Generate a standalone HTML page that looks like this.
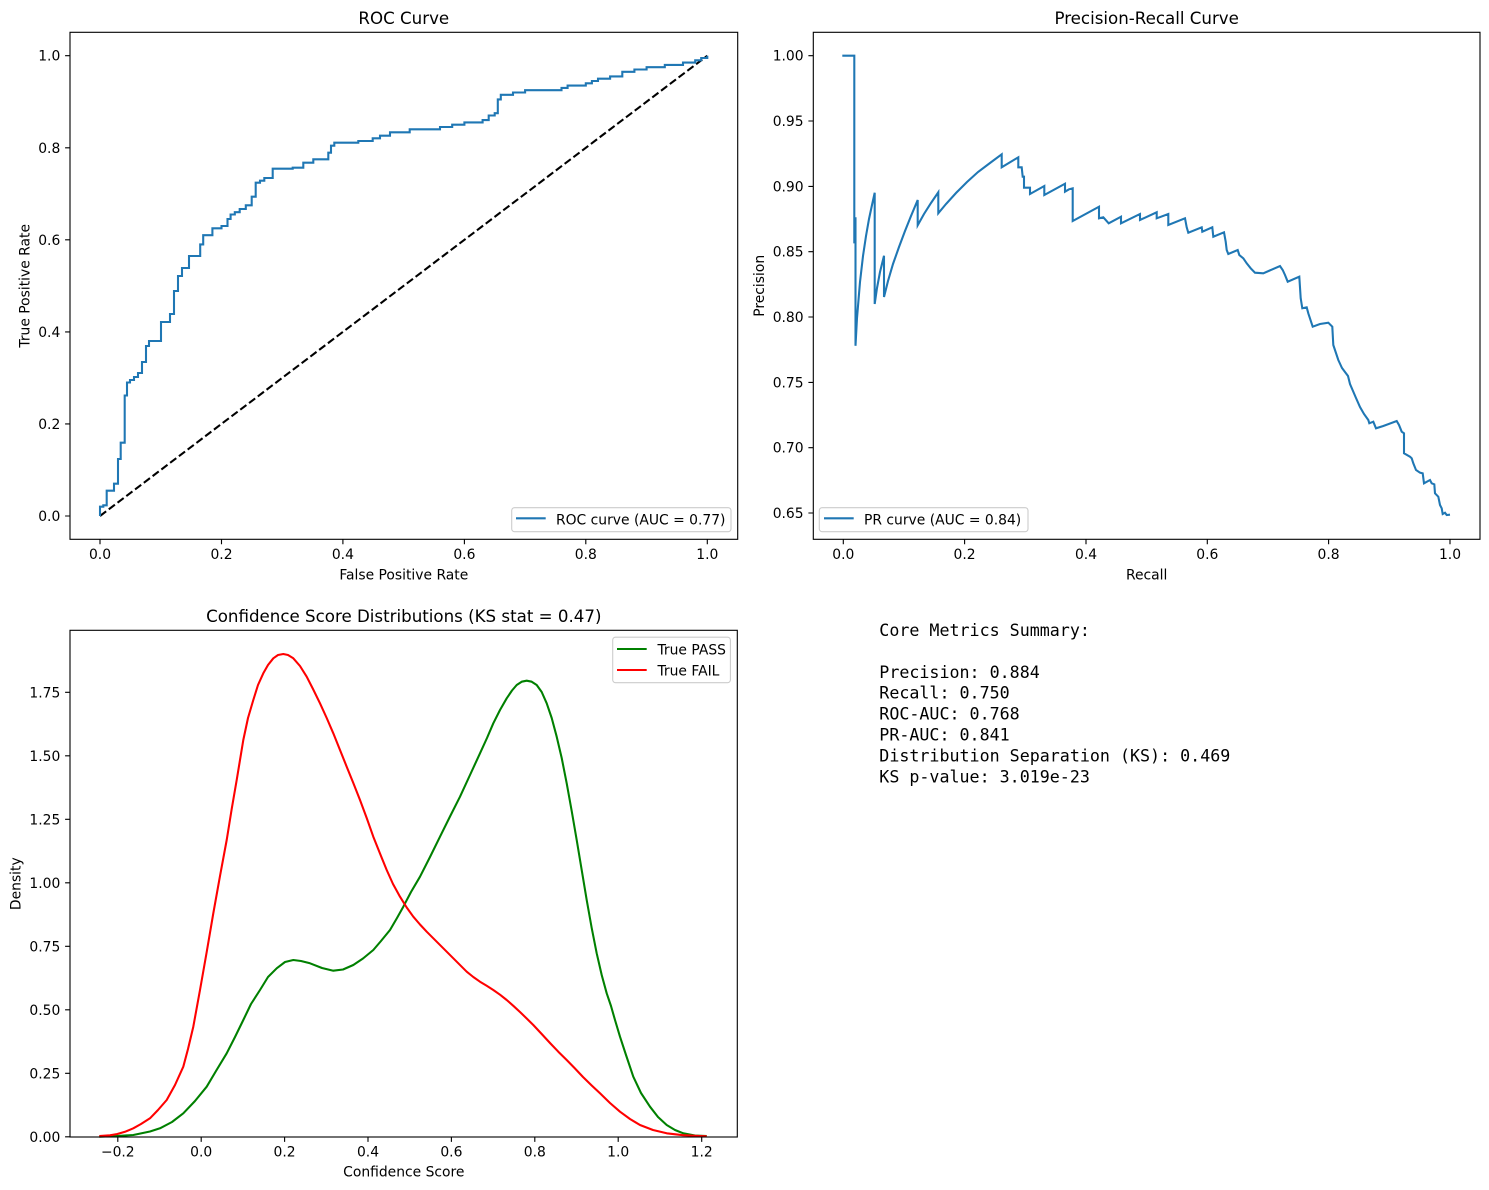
<!DOCTYPE html>
<html><head><meta charset="utf-8"><style>
html,body{margin:0;padding:0;background:#fff;}
svg{display:block;}
text{font-family:"DejaVu Sans","Liberation Sans",sans-serif;fill:#000;}
.t{font-size:13.89px;}
.ti{font-size:16.67px;}
.mono text{font-family:"DejaVu Sans Mono","Liberation Mono",monospace;font-size:16.67px;}
</style></head><body>
<svg width="1489" height="1190" viewBox="0 0 1489 1190" xmlns="http://www.w3.org/2000/svg">
<rect width="1489" height="1190" fill="#fff"/>

<!-- ============ ROC ============ -->
<path d="M100,516 L707.3,55.7" stroke="#000" stroke-width="2.08" stroke-dasharray="7.7,3.3" fill="none"/>
<path d="M100,516 V506.7 H103.3 V505.3 H106.7 V490.7 H114 V483.7 H118 V459 H120.7 V442.7 H124.7 V395.5 H127 V382.5 H130 V380 H134 V377 H138 V373 H142 V362 H146 V346 H149 V341 H161 V322 H170 V314 H174 V291 H178 V276 H182 V268 H189 V256 H200.2 V244.4 H203.2 V235.2 H212.4 V228.3 H221.5 V226 H227.5 V219 H230.6 V214.5 H234.8 V212.2 H239.7 V209 H245.8 V205.3 H251.7 V196.7 H255.7 V182.7 H260 V180.7 H264.3 V178 H272.7 V168.7 H292.7 V167.7 H303.3 V162.7 H313.3 V159.3 H328.3 V152.7 H331 V145.7 H334.3 V142.7 H358.3 V141 H372.7 V138.3 H380 V135.7 H390 V132.3 H409.7 V129.3 H440 V127 H452.2 V124.7 H464.4 V122.4 H482.6 V120.1 H488.7 V115.5 H494.7 V113.2 H497.8 V99.4 H500.8 V94.8 H513 V92.5 H525.1 V90.2 H561.5 V87.9 H567.6 V85.6 H585.8 V83.3 H591.9 V81 H598 V78.7 H610.1 V76.4 H622.3 V71.8 H634.4 V69.5 H646.6 V67.2 H664.8 V64.9 H683 V62.6 H695.2 V60.3 H701.2 V58 H707.3 V55.7" stroke="#1f77b4" stroke-width="2.08" fill="none" stroke-linejoin="miter"/>
<rect x="70" y="32.3" width="667.7" height="507" fill="none" stroke="#000" stroke-width="1.11"/>
<g stroke="#000" stroke-width="1.11">
<path d="M100,539.3v4.9M221.5,539.3v4.9M342.9,539.3v4.9M464.4,539.3v4.9M585.8,539.3v4.9M707.3,539.3v4.9"/>
<path d="M65.1,516h4.9M65.1,423.9h4.9M65.1,331.9h4.9M65.1,239.8h4.9M65.1,147.8h4.9M65.1,55.7h4.9"/>
</g>
<g class="t" text-anchor="middle">
<text x="100" y="559">0.0</text><text x="221.5" y="559">0.2</text><text x="342.9" y="559">0.4</text><text x="464.4" y="559">0.6</text><text x="585.8" y="559">0.8</text><text x="707.3" y="559">1.0</text>
</g>
<g class="t" text-anchor="end">
<text x="60.3" y="521">0.0</text><text x="60.3" y="428.9">0.2</text><text x="60.3" y="336.9">0.4</text><text x="60.3" y="244.8">0.6</text><text x="60.3" y="152.8">0.8</text><text x="60.3" y="60.7">1.0</text>
</g>
<text class="ti" x="403.8" y="24" text-anchor="middle">ROC Curve</text>
<text class="t" x="403.8" y="579.3" text-anchor="middle">False Positive Rate</text>
<text class="t" x="29.4" y="285.8" text-anchor="middle" transform="rotate(-90 29.4 285.8)">True Positive Rate</text>
<rect x="511.7" y="507.7" width="219.3" height="24" rx="2.8" fill="#fff" fill-opacity="0.8" stroke="#cccccc" stroke-width="1.1"/>
<path d="M516,518.3H545.7" stroke="#1f77b4" stroke-width="2.08"/>
<text class="t" x="556" y="524.3">ROC curve (AUC = 0.77)</text>

<!-- ============ PR ============ -->
<path d="M842.3,55.7 H854.3 V242.3 H855 V218.3 H855.5 V345.8 L857,318 L860,282 L863,256 L866,236 L869,219 L872,205 L874.7,192.7 V304 L877,288 L880,272 L884,255.7 V297 L888,281 L893,264 L899,247 L905,231 L911,216 L917.7,200 V225.3 L924,214 L931,203 L938.3,192.3 V213.3 L946,204 L956,193 L967,182 L978,172 L990,163 L1001.7,154.3 V167.3 L1018.3,157.3 V167.3 H1021.7 L1022.7,176.7 H1024 V187.7 H1030 V194 L1044.3,186 V195 L1065,183.7 V191.7 L1069,189.3 L1072.7,188.3 V221 L1099,206.7 V218.3 L1103.3,217.3 L1108.7,223.3 L1121,216.7 V223.3 L1140,214 V220 L1156.7,212.3 V218.3 L1168.3,214 V225 L1185,218.3 L1186.7,227.3 L1188.3,232.7 L1201.7,227.3 L1202.3,231.7 L1212.3,227.3 L1213.3,236.7 L1224,232.3 L1225.7,241.7 L1226.7,250 L1228.3,254 L1237.7,250 L1239.3,255 L1243.3,258.3 L1246.7,263.3 L1250.7,268.3 L1255,272.7 L1263.3,273.3 L1280,266 L1282.7,270 L1285,275 L1287.7,281.7 L1299.3,276.7 L1300.7,298.3 L1302.3,308.3 L1306.7,307.3 L1308.3,313.3 L1312.7,326.7 L1320,324 L1328.3,322.7 L1332.3,326.7 L1333.3,345 L1338.3,360 L1342,368 L1345,372 L1348,376 L1350,384 L1353,391 L1356,398 L1360,407 L1364,414 L1368.3,420 L1369.3,423.3 L1373.3,421.7 L1376,428.3 L1383.3,426 L1396.7,421 L1399,425 L1401.7,431.7 L1404,433.3 V453.3 L1410,456.7 L1411.7,458.3 L1413.3,463.3 L1416,470 L1420,472.7 L1422.7,473.3 L1424,483.3 L1430,480 L1431.7,483.3 L1434.3,484.3 L1435,493.3 L1438.3,496.7 L1440,505 L1441.7,508.3 L1442.7,514 L1445,512.7 L1446.7,515 L1450,514.7" stroke="#1f77b4" stroke-width="2.08" fill="none" stroke-linejoin="miter"/>
<rect x="813.3" y="32.3" width="666.7" height="507" fill="none" stroke="#000" stroke-width="1.11"/>
<g stroke="#000" stroke-width="1.11">
<path d="M843.3,539.3v4.9M964.6,539.3v4.9M1086,539.3v4.9M1207.3,539.3v4.9M1328.6,539.3v4.9M1450,539.3v4.9"/>
<path d="M808.4,55.7h4.9M808.4,121h4.9M808.4,186.4h4.9M808.4,251.7h4.9M808.4,317h4.9M808.4,382.4h4.9M808.4,447.7h4.9M808.4,513h4.9"/>
</g>
<g class="t" text-anchor="middle">
<text x="843.3" y="559">0.0</text><text x="964.6" y="559">0.2</text><text x="1086" y="559">0.4</text><text x="1207.3" y="559">0.6</text><text x="1328.6" y="559">0.8</text><text x="1450" y="559">1.0</text>
</g>
<g class="t" text-anchor="end">
<text x="803.6" y="60.7">1.00</text><text x="803.6" y="126">0.95</text><text x="803.6" y="191.4">0.90</text><text x="803.6" y="256.7">0.85</text><text x="803.6" y="322">0.80</text><text x="803.6" y="387.4">0.75</text><text x="803.6" y="452.7">0.70</text><text x="803.6" y="518">0.65</text>
</g>
<text class="ti" x="1146.7" y="24" text-anchor="middle">Precision-Recall Curve</text>
<text class="t" x="1146.7" y="579.3" text-anchor="middle">Recall</text>
<text class="t" x="763.8" y="285.8" text-anchor="middle" transform="rotate(-90 763.8 285.8)">Precision</text>
<rect x="819.3" y="507.7" width="208.7" height="24" rx="2.8" fill="#fff" fill-opacity="0.8" stroke="#cccccc" stroke-width="1.1"/>
<path d="M824,518.3H853.7" stroke="#1f77b4" stroke-width="2.08"/>
<text class="t" x="864" y="524.3">PR curve (AUC = 0.84)</text>

<!-- ============ KDE ============ -->
<polyline fill="none" stroke="#008000" stroke-width="2.08" stroke-linejoin="round" points="99.3,1136.7 117,1136 133.3,1135 150,1131.5 160,1128.3 172,1122 183.3,1113.3 195,1101 206.7,1086.7 216,1071 226.7,1053.3 235,1037 243.3,1020 251,1004 260,990 268,977 276.7,968.3 285,962 293.3,960 301,961 310,963.3 322,968 333.3,970.7 343,969.5 353.3,965 363,958.5 373.3,950 381,941 390,930 397,918 403.3,906.7 411,892 420,876.7 430,857 440,836.7 450,816.5 460,796.7 470,775 480,753.3 487,738 493.3,723.3 500,710 506.7,698.3 512,690.5 516.7,685 521.7,681.7 526.7,680.7 531.7,681.7 536.7,685 541.7,692 546.7,703.3 551.7,718 556.7,736.7 561.7,758 566.7,783.3 571.7,811 576.7,840 581.7,870 586.7,900 591.7,928 596.7,953.3 601.7,975 606.7,993.3 611,1006 615,1020 620,1036.7 626,1055 633.3,1076.7 641,1093 650,1106.7 658,1117 666.7,1125 675,1130 683.3,1133.3 695,1135.5 706.7,1136"/>
<polyline fill="none" stroke="#ff0000" stroke-width="2.08" stroke-linejoin="round" points="99.3,1136 110,1135.3 117.3,1134 125,1131.8 133.3,1128.3 141,1124 150,1118.3 158,1110 166.7,1100 175,1085 183.3,1066.7 188,1049 193.3,1026.7 200,990 206.7,952 213.3,913.3 220,876 226.7,840 231.7,809 236.7,780 243.3,740 248,718 253.3,700 258,685 263.3,673.3 268,665 273.3,658.3 278,655 283.3,654 288,655 293.3,658.3 300,666 306.7,676.7 313,689 320,703.3 326.7,718 333.3,733.3 340,750 346.7,766.7 353.3,783 360,800 366.7,818 373.3,836.7 380,853.5 386.7,870 393,884 400,896.7 406.7,907.5 413.3,916.7 420,924.5 426.7,931.7 436.7,941.7 446.7,951.7 456.7,961.7 466.7,971.7 473.3,977 480,981.7 486.7,985.8 493.3,990 500,994.7 506.7,1000 513.3,1005.8 520,1012 526.7,1018.5 533.3,1025 541.7,1034 550,1043 558.3,1051.7 566.7,1060 575,1068.5 583,1077 591.7,1085.5 600,1093.3 610,1103 620,1111.7 630,1119 640,1125 653,1130 666.7,1133.3 683,1135.2 700,1136 706.7,1136.3"/>
<rect x="70" y="630.3" width="667.3" height="506.7" fill="none" stroke="#000" stroke-width="1.11"/>
<g stroke="#000" stroke-width="1.11">
<path d="M117.8,1137v4.9M201.2,1137v4.9M284.6,1137v4.9M368,1137v4.9M451.4,1137v4.9M534.8,1137v4.9M618.2,1137v4.9M701.7,1137v4.9"/>
<path d="M65.1,1136.8h4.9M65.1,1073.3h4.9M65.1,1009.8h4.9M65.1,946.3h4.9M65.1,882.8h4.9M65.1,819.3h4.9M65.1,755.8h4.9M65.1,692.3h4.9"/>
</g>
<g class="t" text-anchor="middle">
<text x="117.8" y="1156.7">−0.2</text><text x="201.2" y="1156.7">0.0</text><text x="284.6" y="1156.7">0.2</text><text x="368" y="1156.7">0.4</text><text x="451.4" y="1156.7">0.6</text><text x="534.8" y="1156.7">0.8</text><text x="618.2" y="1156.7">1.0</text><text x="701.7" y="1156.7">1.2</text>
</g>
<g class="t" text-anchor="end">
<text x="60.3" y="1141.8">0.00</text><text x="60.3" y="1078.3">0.25</text><text x="60.3" y="1014.8">0.50</text><text x="60.3" y="951.3">0.75</text><text x="60.3" y="887.8">1.00</text><text x="60.3" y="824.3">1.25</text><text x="60.3" y="760.8">1.50</text><text x="60.3" y="697.3">1.75</text>
</g>
<text class="ti" x="403.8" y="622" text-anchor="middle">Confidence Score Distributions (KS stat = 0.47)</text>
<text class="t" x="403.8" y="1176.7" text-anchor="middle">Confidence Score</text>
<text class="t" x="20.5" y="883.7" text-anchor="middle" transform="rotate(-90 20.5 883.7)">Density</text>
<rect x="612.7" y="637.2" width="117.7" height="45.5" rx="2.8" fill="#fff" fill-opacity="0.8" stroke="#cccccc" stroke-width="1.1"/>
<path d="M617,649H646.7" stroke="#008000" stroke-width="2.08"/>
<path d="M617,670H646.7" stroke="#ff0000" stroke-width="2.08"/>
<text class="t" x="657.5" y="654.3">True PASS</text>
<text class="t" x="657.5" y="675.3">True FAIL</text>

<!-- ============ Text panel ============ -->
<g class="mono">
<text x="879.3" y="636">Core Metrics Summary:</text>
<text x="879.3" y="677.8">Precision: 0.884</text>
<text x="879.3" y="698.7">Recall: 0.750</text>
<text x="879.3" y="719.6">ROC-AUC: 0.768</text>
<text x="879.3" y="740.5">PR-AUC: 0.841</text>
<text x="879.3" y="761.4">Distribution Separation (KS): 0.469</text>
<text x="879.3" y="782.3">KS p-value: 3.019e-23</text>
</g>
</svg>
</body></html>
